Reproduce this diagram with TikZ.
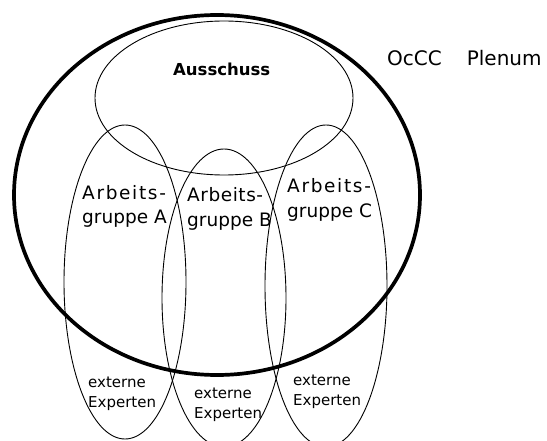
\documentclass[tikz,border=0pt]{standalone}
\usepackage{fontspec}
\setmainfont{DejaVu Sans}
\begin{document}
\begin{tikzpicture}[x=1pt,y=-1pt,
  thinring/.style={line width=0.9pt},
  plenumring/.style={line width=3.7pt},
  lbl/.style={inner sep=0pt,anchor=base west},
  agtext/.style={lbl,font=\fontsize{18.5}{22}\selectfont\addfontfeature{LetterSpace=9}},
  agtextnarrow/.style={lbl,font=\fontsize{18.5}{22}\selectfont\addfontfeature{LetterSpace=3}},
  grtext/.style={lbl,font=\fontsize{18.5}{22}\selectfont},
  extext/.style={lbl,font=\fontsize{15}{18}\selectfont}]
  \useasboundingbox (0,0) rectangle (547,441);
  \begin{scope}
    \clip (0,0) rectangle (547,441);
    % working groups
    \draw[thinring] (125,282) ellipse [x radius=61, y radius=157];
    \draw[thinring] (224,298) ellipse [x radius=62, y radius=149];
    \draw[thinring] (326,286) ellipse [x radius=61, y radius=161];
    % committee
    \draw[thinring] (224,98) ellipse [x radius=129, y radius=77];
    % plenum
    \draw[plenumring] (217,195) ellipse [x radius=203, y radius=180];
  \end{scope}

  \node[lbl,font=\fontsize{16.5}{20}\selectfont\bfseries] (aus) at (173,76) {Ausschuss};
  \node[lbl,font=\fontsize{20}{24}\selectfont] (plenum) at (387,66) {OcCC\hspace{25pt}Plenum};

  \node[agtext] (agA1) at (82,200) {Arbeits-};
  \node[grtext] (agA2) at (82,224) {gruppe A};
  \node[agtextnarrow] (agB1) at (187,202) {Arbeits-};
  \node[grtext] (agB2) at (187,227) {gruppe B};
  \node[agtext] (agC1) at (287,193) {Arbeits-};
  \node[grtext] (agC2) at (287,218) {gruppe C};

  \node[extext] (exA1) at (88,387) {externe};
  \node[extext] (exA2) at (88,407) {Experten};
  \node[extext] (exB1) at (194,398) {externe};
  \node[extext] (exB2) at (194,418) {Experten};
  \node[extext] (exC1) at (293,385) {externe};
  \node[extext] (exC2) at (293,405) {Experten};
\end{tikzpicture}
\end{document}
